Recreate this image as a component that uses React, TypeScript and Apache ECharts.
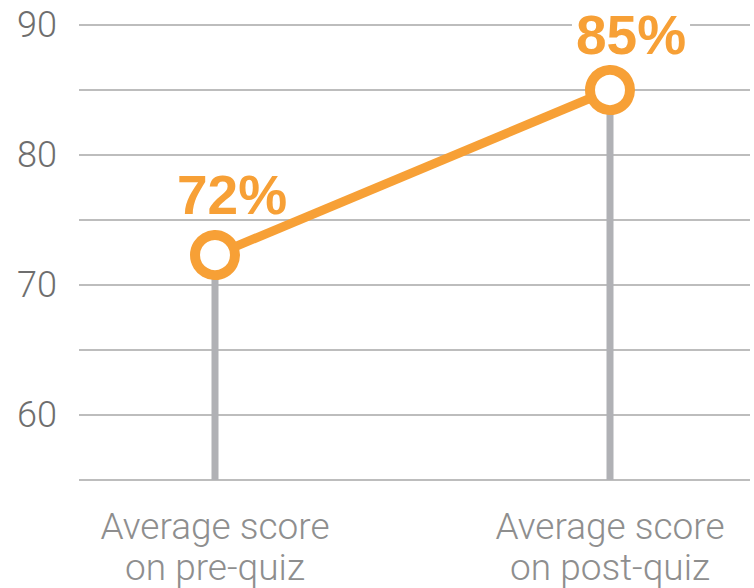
import React, { useEffect, useRef } from "react";
import * as echarts from "echarts";

const categories = ["Average score\non pre-quiz", "Average score\non post-quiz"];
const scores = [72.3, 85];
const scoreLabels = ["72%", "85%"];
const yTicks = [60, 70, 80, 90];

const ORANGE = "#F7A036";
const GRAY_BAR = "#B0B1B5";
const GRID = "#BDBDBD";

export default function App() {
  const ref = useRef<HTMLDivElement>(null);
  useEffect(() => {
    if (!ref.current) return;
    const chart = echarts.init(ref.current, undefined, { renderer: "svg" });
    chart.setOption({
      animation: false,
      backgroundColor: "#ffffff",
      grid: [
        { left: 79, right: 4, top: 25, bottom: 108 },
        { left: 215, right: 144, top: 25, bottom: 108 },
      ],
      xAxis: [
        { type: "value", gridIndex: 0, show: false, min: 0, max: 1 },
        {
          type: "category",
          gridIndex: 1,
          data: categories,
          boundaryGap: false,
          axisLine: { show: false },
          axisTick: { show: false },
          splitLine: { show: false },
          axisLabel: {
            margin: 26,
            color: "#8E8E8E",
            fontSize: 37,
            fontWeight: 300,
            fontFamily: "Roboto",
            lineHeight: 41,
            align: "center",
            interval: 0,
          },
        },
      ],
      yAxis: [
        {
          type: "value",
          gridIndex: 0,
          min: 55,
          max: 90,
          interval: 5,
          axisLine: { show: false },
          axisTick: { show: false },
          splitLine: { show: true, lineStyle: { color: GRID, width: 2 } },
          axisLabel: {
            margin: 22,
            color: "#6E6E6E",
            fontSize: 36,
            fontWeight: 300,
            fontFamily: "Roboto",
            formatter: (v: number) => (yTicks.includes(v) ? String(v) : ""),
          },
        },
        {
          type: "value",
          gridIndex: 1,
          min: 55,
          max: 90,
          interval: 5,
          show: false,
        },
      ],
      series: [
        {
          type: "bar",
          xAxisIndex: 1,
          yAxisIndex: 1,
          data: scores,
          barWidth: 7,
          itemStyle: { color: GRAY_BAR },
          z: 2,
          silent: true,
        },
        {
          type: "line",
          xAxisIndex: 1,
          yAxisIndex: 1,
          data: scores.map((v, i) => ({
            value: v,
            label: {
              show: true,
              position: "top",
              offset: i === 0 ? [17, -8] : [21, -3],
              formatter: scoreLabels[i],
              color: ORANGE,
              fontSize: 55,
              lineHeight: 44,
              fontWeight: "bold",
              fontFamily: "Liberation Sans",
              backgroundColor: i === 1 ? "#ffffff" : "transparent",
              padding: [0, 4],
            },
          })),
          symbol: "circle",
          symbolSize: 40,
          showSymbol: true,
          lineStyle: { color: ORANGE, width: 9 },
          itemStyle: { color: "#ffffff", borderColor: ORANGE, borderWidth: 10 },
          z: 5,
          clip: false,
        },
      ],
    });
    return () => chart.dispose();
  }, []);
  return <div ref={ref} style={{ width: 754, height: 588, position: "absolute", left: 0, top: 0 }} />;
}
